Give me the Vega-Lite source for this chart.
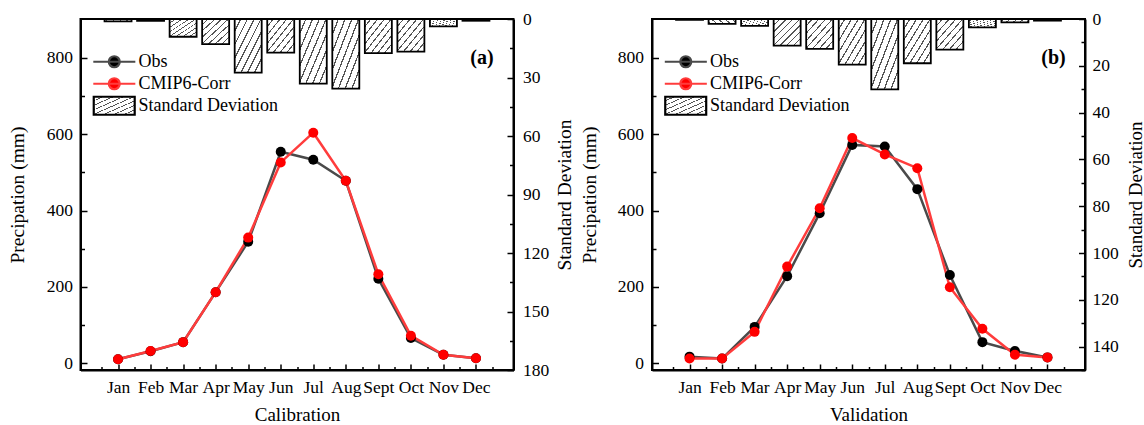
{
  "$schema": "https://vega.github.io/schema/vega-lite/v6.json",
  "background": "white",
  "padding": {"left": 5.5, "top": 9, "right": 0, "bottom": 0},
  "spacing": 2.5,
  "config": {
    "font": "Liberation Serif",
    "view": {"stroke": "black", "strokeWidth": 2},
    "axis": {
      "grid": false, "domainColor": "black", "domainWidth": 2, "tickColor": "black", "tickWidth": 1.5,
      "labelColor": "black", "titleColor": "black", "labelFont": "Liberation Serif", "titleFont": "Liberation Serif",
      "labelFontSize": 17.5, "titleFontSize": 19.5, "titleFontWeight": "normal",
      "labelFlush": false, "labelOverlap": false, "labelBound": false
    },
    "legend": {
      "orient": "none", "legendX": 11.3, "legendY": 32, "padding": 0, "rowPadding": 0, "clipHeight": 21.5,
      "symbolSize": 324, "symbolStrokeWidth": 2.2, "symbolOffset": 0,
      "labelFontSize": 18, "labelFont": "Liberation Serif", "labelColor": "black", "labelOffset": 25.7, "labelLimit": 300
    }
  },
  "resolve": {"scale": {"color": "independent", "fill": "independent"}, "legend": {"color": "independent"}},
  "hconcat": [
    {
      "width": 433, "height": 351,
      "encoding": {
        "x": {"field": "i", "type": "quantitative", "scale": {"domain": [0, 13], "nice": false, "zero": false},
          "axis": {"title": "Calibration", "titleFontSize": 19,
            "values": [0.5,1,1.5,2,2.5,3,3.5,4,4.5,5,5.5,6,6.5,7,7.5,8,8.5,9,9.5,10,10.5,11,11.5,12,12.5],
            "labelExpr": "datum.value % 1 === 0 ? ['Jan','Feb','Mar','Apr','May','Jun','Jul','Aug','Sept','Oct','Nov','Dec'][datum.value - 1] : ''",
            "tickSize": {"condition": {"test": "datum.value % 1 === 0", "value": -6}, "value": -3.5},
            "labelPadding": 14, "titlePadding": 7}}
      },
      "layer": [
        {
          "data": {"values": [
            {"m": "Jan", "i": 1, "sd": 1.2}, {"m": "Feb", "i": 2, "sd": 0.9}, {"m": "Mar", "i": 3, "sd": 9.1},
            {"m": "Apr", "i": 4, "sd": 12.9}, {"m": "May", "i": 5, "sd": 27.5}, {"m": "Jun", "i": 6, "sd": 17.2},
            {"m": "Jul", "i": 7, "sd": 33.1}, {"m": "Aug", "i": 8, "sd": 35.7}, {"m": "Sept", "i": 9, "sd": 17.5},
            {"m": "Oct", "i": 10, "sd": 16.7}, {"m": "Nov", "i": 11, "sd": 3.8}, {"m": "Dec", "i": 12, "sd": 0.9}
          ]},
          "mark": {"type": "bar", "size": 27, "stroke": "black", "strokeWidth": 1.8,
            "fill": {"gradient": "linear", "x1": 0, "y1": 0, "x2": 1, "y2": 1, "stops": [
              {"offset": 0, "color": "white"}, {"offset": 0.1, "color": "white"}, {"offset": 0.1, "color": "#555"}, {"offset": 0.125, "color": "#555"},
              {"offset": 0.125, "color": "white"}, {"offset": 0.225, "color": "white"}, {"offset": 0.225, "color": "#555"}, {"offset": 0.25, "color": "#555"},
              {"offset": 0.25, "color": "white"}, {"offset": 0.35, "color": "white"}, {"offset": 0.35, "color": "#555"}, {"offset": 0.375, "color": "#555"},
              {"offset": 0.375, "color": "white"}, {"offset": 0.475, "color": "white"}, {"offset": 0.475, "color": "#555"}, {"offset": 0.5, "color": "#555"},
              {"offset": 0.5, "color": "white"}, {"offset": 0.6, "color": "white"}, {"offset": 0.6, "color": "#555"}, {"offset": 0.625, "color": "#555"},
              {"offset": 0.625, "color": "white"}, {"offset": 0.725, "color": "white"}, {"offset": 0.725, "color": "#555"}, {"offset": 0.75, "color": "#555"},
              {"offset": 0.75, "color": "white"}, {"offset": 0.85, "color": "white"}, {"offset": 0.85, "color": "#555"}, {"offset": 0.875, "color": "#555"},
              {"offset": 0.875, "color": "white"}, {"offset": 0.975, "color": "white"}, {"offset": 0.975, "color": "#555"}, {"offset": 1, "color": "#555"}
            ]}},
          "encoding": {
            "y": {"field": "sd", "type": "quantitative", "scale": {"domain": [0, 180], "reverse": true, "nice": false, "zero": true},
              "axis": {"orient": "right", "title": "Standard Deviation", "titleAngle": 270, "titleBaseline": "top",
                "values": [0,15,30,45,60,75,90,105,120,135,150,165,180],
                "labelExpr": "datum.value % 30 === 0 ? datum.label : ''",
                "tickSize": {"condition": {"test": "datum.value % 30 === 0", "value": -6.5}, "value": -4},
                "labelPadding": 15.5, "titlePadding": 6.5}}
          }
        },
        {
          "data": {"values": [
            {"m": "Jan", "i": 1, "s": "Obs", "v": 10}, {"m": "Feb", "i": 2, "s": "Obs", "v": 31}, {"m": "Mar", "i": 3, "s": "Obs", "v": 55},
            {"m": "Apr", "i": 4, "s": "Obs", "v": 186}, {"m": "May", "i": 5, "s": "Obs", "v": 318}, {"m": "Jun", "i": 6, "s": "Obs", "v": 554},
            {"m": "Jul", "i": 7, "s": "Obs", "v": 533}, {"m": "Aug", "i": 8, "s": "Obs", "v": 478}, {"m": "Sept", "i": 9, "s": "Obs", "v": 221},
            {"m": "Oct", "i": 10, "s": "Obs", "v": 66}, {"m": "Nov", "i": 11, "s": "Obs", "v": 22}, {"m": "Dec", "i": 12, "s": "Obs", "v": 13},
            {"m": "Jan", "i": 1, "s": "CMIP6-Corr", "v": 10}, {"m": "Feb", "i": 2, "s": "CMIP6-Corr", "v": 32}, {"m": "Mar", "i": 3, "s": "CMIP6-Corr", "v": 55},
            {"m": "Apr", "i": 4, "s": "CMIP6-Corr", "v": 186}, {"m": "May", "i": 5, "s": "CMIP6-Corr", "v": 329}, {"m": "Jun", "i": 6, "s": "CMIP6-Corr", "v": 526},
            {"m": "Jul", "i": 7, "s": "CMIP6-Corr", "v": 604}, {"m": "Aug", "i": 8, "s": "CMIP6-Corr", "v": 478}, {"m": "Sept", "i": 9, "s": "CMIP6-Corr", "v": 233},
            {"m": "Oct", "i": 10, "s": "CMIP6-Corr", "v": 72}, {"m": "Nov", "i": 11, "s": "CMIP6-Corr", "v": 22}, {"m": "Dec", "i": 12, "s": "CMIP6-Corr", "v": 13}
          ]},
          "layer": [
            {
              "mark": {"type": "line", "strokeWidth": 2.5},
              "encoding": {
                "y": {"field": "v", "type": "quantitative", "scale": {"domain": [-18, 902], "nice": false, "zero": false},
                  "axis": {"title": "Precipation (mm)", "values": [0,100,200,300,400,500,600,700,800],
                    "labelExpr": "datum.value % 200 === 0 ? datum.label : ''",
                    "tickSize": {"condition": {"test": "datum.value % 200 === 0", "value": -6.5}, "value": -4},
                    "labelPadding": 14.5, "titlePadding": 19}},
                "color": {"field": "s", "type": "nominal",
                  "scale": {"domain": ["Obs", "CMIP6-Corr", "Standard Deviation"], "range": ["#4a4a4a", "#ff3c3c", "black"]},
                  "legend": {"title": null, "encode": {"symbols": {"update": {
                    "shape": [{"test": "datum.value === 'Standard Deviation'", "value": "M-0.95,-1H3.6V1H-0.95Z"}, {"value": "M-1,0H3.67M1.94,0C1.94,0.337 1.667,0.61 1.33,0.61C0.993,0.61 0.72,0.337 0.72,0C0.72,-0.337 0.993,-0.61 1.33,-0.61C1.667,-0.61 1.94,-0.337 1.94,0Z"}],
                    "fill": [
                      {"test": "datum.value === 'Standard Deviation'", "value": {"gradient": "linear", "x1": 0, "y1": 0, "x2": 1, "y2": 1, "stops": [
                        {"offset": 0, "color": "white"}, {"offset": 0.1, "color": "white"}, {"offset": 0.1, "color": "#555"}, {"offset": 0.125, "color": "#555"},
                        {"offset": 0.125, "color": "white"}, {"offset": 0.225, "color": "white"}, {"offset": 0.225, "color": "#555"}, {"offset": 0.25, "color": "#555"},
                        {"offset": 0.25, "color": "white"}, {"offset": 0.35, "color": "white"}, {"offset": 0.35, "color": "#555"}, {"offset": 0.375, "color": "#555"},
                        {"offset": 0.375, "color": "white"}, {"offset": 0.475, "color": "white"}, {"offset": 0.475, "color": "#555"}, {"offset": 0.5, "color": "#555"},
                        {"offset": 0.5, "color": "white"}, {"offset": 0.6, "color": "white"}, {"offset": 0.6, "color": "#555"}, {"offset": 0.625, "color": "#555"},
                        {"offset": 0.625, "color": "white"}, {"offset": 0.725, "color": "white"}, {"offset": 0.725, "color": "#555"}, {"offset": 0.75, "color": "#555"},
                        {"offset": 0.75, "color": "white"}, {"offset": 0.85, "color": "white"}, {"offset": 0.85, "color": "#555"}, {"offset": 0.875, "color": "#555"},
                        {"offset": 0.875, "color": "white"}, {"offset": 0.975, "color": "white"}, {"offset": 0.975, "color": "#555"}, {"offset": 1, "color": "#555"}
                      ]}},
                      {"test": "datum.value === 'Obs'", "value": "black"},
                      {"value": "red"}
                    ],
                    "stroke": [{"test": "datum.value === 'Standard Deviation'", "value": "black"}, {"test": "datum.value === 'Obs'", "value": "#4a4a4a"}, {"value": "#ff3c3c"}],
                    "opacity": {"value": 1}, "fillOpacity": {"value": 1}, "strokeOpacity": {"value": 1}
                  }}}}
                }
              }
            },
            {
              "mark": {"type": "point", "filled": true, "size": 100, "opacity": 1, "strokeWidth": 0},
              "encoding": {
                "y": {"field": "v", "type": "quantitative"},
                "fill": {"field": "s", "type": "nominal", "scale": {"domain": ["Obs", "CMIP6-Corr"], "range": ["black", "red"]}, "legend": null}
              }
            },
            {
              "data": {"values": [{"t": "(a)", "i": 12, "v": 800}]},
              "mark": {"type": "text", "font": "Liberation Serif", "fontWeight": "bold", "fontSize": 20, "dx": 6, "align": "center", "baseline": "middle", "color": "black"},
              "encoding": {"y": {"field": "v", "type": "quantitative"}, "text": {"field": "t"}}
            }
          ]
        }
      ],
      "resolve": {"scale": {"y": "independent"}, "axis": {"y": "independent"}}
    },
    {
      "width": 433, "height": 351,
      "encoding": {
        "x": {"field": "i", "type": "quantitative", "scale": {"domain": [0, 13], "nice": false, "zero": false},
          "axis": {"title": "Validation", "titleFontSize": 19,
            "values": [0.5,1,1.5,2,2.5,3,3.5,4,4.5,5,5.5,6,6.5,7,7.5,8,8.5,9,9.5,10,10.5,11,11.5,12,12.5],
            "labelExpr": "datum.value % 1 === 0 ? ['Jan','Feb','Mar','Apr','May','Jun','Jul','Aug','Sept','Oct','Nov','Dec'][datum.value - 1] : ''",
            "tickSize": {"condition": {"test": "datum.value % 1 === 0", "value": -6}, "value": -3.5},
            "labelPadding": 14, "titlePadding": 7}}
      },
      "layer": [
        {
          "data": {"values": [
            {"m": "Jan", "i": 1, "sd": 0.4}, {"m": "Feb", "i": 2, "sd": 2.1}, {"m": "Mar", "i": 3, "sd": 2.9},
            {"m": "Apr", "i": 4, "sd": 11.4}, {"m": "May", "i": 5, "sd": 12.8}, {"m": "Jun", "i": 6, "sd": 19.5},
            {"m": "Jul", "i": 7, "sd": 30.1}, {"m": "Aug", "i": 8, "sd": 18.9}, {"m": "Sept", "i": 9, "sd": 13.1},
            {"m": "Oct", "i": 10, "sd": 3.6}, {"m": "Nov", "i": 11, "sd": 1.4}, {"m": "Dec", "i": 12, "sd": 0.7}
          ]},
          "mark": {"type": "bar", "size": 27, "stroke": "black", "strokeWidth": 1.8,
            "fill": {"gradient": "linear", "x1": 0, "y1": 0, "x2": 1, "y2": 1, "stops": [
              {"offset": 0, "color": "white"}, {"offset": 0.1, "color": "white"}, {"offset": 0.1, "color": "#555"}, {"offset": 0.125, "color": "#555"},
              {"offset": 0.125, "color": "white"}, {"offset": 0.225, "color": "white"}, {"offset": 0.225, "color": "#555"}, {"offset": 0.25, "color": "#555"},
              {"offset": 0.25, "color": "white"}, {"offset": 0.35, "color": "white"}, {"offset": 0.35, "color": "#555"}, {"offset": 0.375, "color": "#555"},
              {"offset": 0.375, "color": "white"}, {"offset": 0.475, "color": "white"}, {"offset": 0.475, "color": "#555"}, {"offset": 0.5, "color": "#555"},
              {"offset": 0.5, "color": "white"}, {"offset": 0.6, "color": "white"}, {"offset": 0.6, "color": "#555"}, {"offset": 0.625, "color": "#555"},
              {"offset": 0.625, "color": "white"}, {"offset": 0.725, "color": "white"}, {"offset": 0.725, "color": "#555"}, {"offset": 0.75, "color": "#555"},
              {"offset": 0.75, "color": "white"}, {"offset": 0.85, "color": "white"}, {"offset": 0.85, "color": "#555"}, {"offset": 0.875, "color": "#555"},
              {"offset": 0.875, "color": "white"}, {"offset": 0.975, "color": "white"}, {"offset": 0.975, "color": "#555"}, {"offset": 1, "color": "#555"}
            ]}},
          "encoding": {
            "y": {"field": "sd", "type": "quantitative", "scale": {"domain": [0, 150], "reverse": true, "nice": false, "zero": true},
              "axis": {"orient": "right", "title": "Standard Deviation", "titleAngle": 270, "titleBaseline": "top", "titleFontSize": 19,
                "values": [0,10,20,30,40,50,60,70,80,90,100,110,120,130,140,150],
                "labelExpr": "datum.value % 20 === 0 ? datum.label : ''",
                "tickSize": {"condition": {"test": "datum.value % 20 === 0", "value": -6.5}, "value": -4},
                "labelPadding": 13.5, "titlePadding": 8}}
          }
        },
        {
          "data": {"values": [
            {"m": "Jan", "i": 1, "s": "Obs", "v": 17}, {"m": "Feb", "i": 2, "s": "Obs", "v": 12}, {"m": "Mar", "i": 3, "s": "Obs", "v": 95},
            {"m": "Apr", "i": 4, "s": "Obs", "v": 228}, {"m": "May", "i": 5, "s": "Obs", "v": 393}, {"m": "Jun", "i": 6, "s": "Obs", "v": 572},
            {"m": "Jul", "i": 7, "s": "Obs", "v": 568}, {"m": "Aug", "i": 8, "s": "Obs", "v": 456}, {"m": "Sept", "i": 9, "s": "Obs", "v": 231},
            {"m": "Oct", "i": 10, "s": "Obs", "v": 55}, {"m": "Nov", "i": 11, "s": "Obs", "v": 32}, {"m": "Dec", "i": 12, "s": "Obs", "v": 15},
            {"m": "Jan", "i": 1, "s": "CMIP6-Corr", "v": 12}, {"m": "Feb", "i": 2, "s": "CMIP6-Corr", "v": 12}, {"m": "Mar", "i": 3, "s": "CMIP6-Corr", "v": 82},
            {"m": "Apr", "i": 4, "s": "CMIP6-Corr", "v": 253}, {"m": "May", "i": 5, "s": "CMIP6-Corr", "v": 406}, {"m": "Jun", "i": 6, "s": "CMIP6-Corr", "v": 590},
            {"m": "Jul", "i": 7, "s": "CMIP6-Corr", "v": 547}, {"m": "Aug", "i": 8, "s": "CMIP6-Corr", "v": 511}, {"m": "Sept", "i": 9, "s": "CMIP6-Corr", "v": 199},
            {"m": "Oct", "i": 10, "s": "CMIP6-Corr", "v": 90}, {"m": "Nov", "i": 11, "s": "CMIP6-Corr", "v": 22}, {"m": "Dec", "i": 12, "s": "CMIP6-Corr", "v": 15}
          ]},
          "layer": [
            {
              "mark": {"type": "line", "strokeWidth": 2.5},
              "encoding": {
                "y": {"field": "v", "type": "quantitative", "scale": {"domain": [-18, 902], "nice": false, "zero": false},
                  "axis": {"title": "Precipation (mm)", "values": [0,100,200,300,400,500,600,700,800],
                    "labelExpr": "datum.value % 200 === 0 ? datum.label : ''",
                    "tickSize": {"condition": {"test": "datum.value % 200 === 0", "value": -6.5}, "value": -4},
                    "labelPadding": 15, "titlePadding": 18}},
                "color": {"field": "s", "type": "nominal",
                  "scale": {"domain": ["Obs", "CMIP6-Corr", "Standard Deviation"], "range": ["#4a4a4a", "#ff3c3c", "black"]},
                  "legend": {"title": null, "encode": {"symbols": {"update": {
                    "shape": [{"test": "datum.value === 'Standard Deviation'", "value": "M-0.95,-1H3.6V1H-0.95Z"}, {"value": "M-1,0H3.67M1.94,0C1.94,0.337 1.667,0.61 1.33,0.61C0.993,0.61 0.72,0.337 0.72,0C0.72,-0.337 0.993,-0.61 1.33,-0.61C1.667,-0.61 1.94,-0.337 1.94,0Z"}],
                    "fill": [
                      {"test": "datum.value === 'Standard Deviation'", "value": {"gradient": "linear", "x1": 0, "y1": 0, "x2": 1, "y2": 1, "stops": [
                        {"offset": 0, "color": "white"}, {"offset": 0.1, "color": "white"}, {"offset": 0.1, "color": "#555"}, {"offset": 0.125, "color": "#555"},
                        {"offset": 0.125, "color": "white"}, {"offset": 0.225, "color": "white"}, {"offset": 0.225, "color": "#555"}, {"offset": 0.25, "color": "#555"},
                        {"offset": 0.25, "color": "white"}, {"offset": 0.35, "color": "white"}, {"offset": 0.35, "color": "#555"}, {"offset": 0.375, "color": "#555"},
                        {"offset": 0.375, "color": "white"}, {"offset": 0.475, "color": "white"}, {"offset": 0.475, "color": "#555"}, {"offset": 0.5, "color": "#555"},
                        {"offset": 0.5, "color": "white"}, {"offset": 0.6, "color": "white"}, {"offset": 0.6, "color": "#555"}, {"offset": 0.625, "color": "#555"},
                        {"offset": 0.625, "color": "white"}, {"offset": 0.725, "color": "white"}, {"offset": 0.725, "color": "#555"}, {"offset": 0.75, "color": "#555"},
                        {"offset": 0.75, "color": "white"}, {"offset": 0.85, "color": "white"}, {"offset": 0.85, "color": "#555"}, {"offset": 0.875, "color": "#555"},
                        {"offset": 0.875, "color": "white"}, {"offset": 0.975, "color": "white"}, {"offset": 0.975, "color": "#555"}, {"offset": 1, "color": "#555"}
                      ]}},
                      {"test": "datum.value === 'Obs'", "value": "black"},
                      {"value": "red"}
                    ],
                    "stroke": [{"test": "datum.value === 'Standard Deviation'", "value": "black"}, {"test": "datum.value === 'Obs'", "value": "#4a4a4a"}, {"value": "#ff3c3c"}],
                    "opacity": {"value": 1}, "fillOpacity": {"value": 1}, "strokeOpacity": {"value": 1}
                  }}}}
                }
              }
            },
            {
              "mark": {"type": "point", "filled": true, "size": 100, "opacity": 1, "strokeWidth": 0},
              "encoding": {
                "y": {"field": "v", "type": "quantitative"},
                "fill": {"field": "s", "type": "nominal", "scale": {"domain": ["Obs", "CMIP6-Corr"], "range": ["black", "red"]}, "legend": null}
              }
            },
            {
              "data": {"values": [{"t": "(b)", "i": 12, "v": 800}]},
              "mark": {"type": "text", "font": "Liberation Serif", "fontWeight": "bold", "fontSize": 20, "dx": 6, "align": "center", "baseline": "middle", "color": "black"},
              "encoding": {"y": {"field": "v", "type": "quantitative"}, "text": {"field": "t"}}
            }
          ]
        }
      ],
      "resolve": {"scale": {"y": "independent"}, "axis": {"y": "independent"}}
    }
  ]
}
